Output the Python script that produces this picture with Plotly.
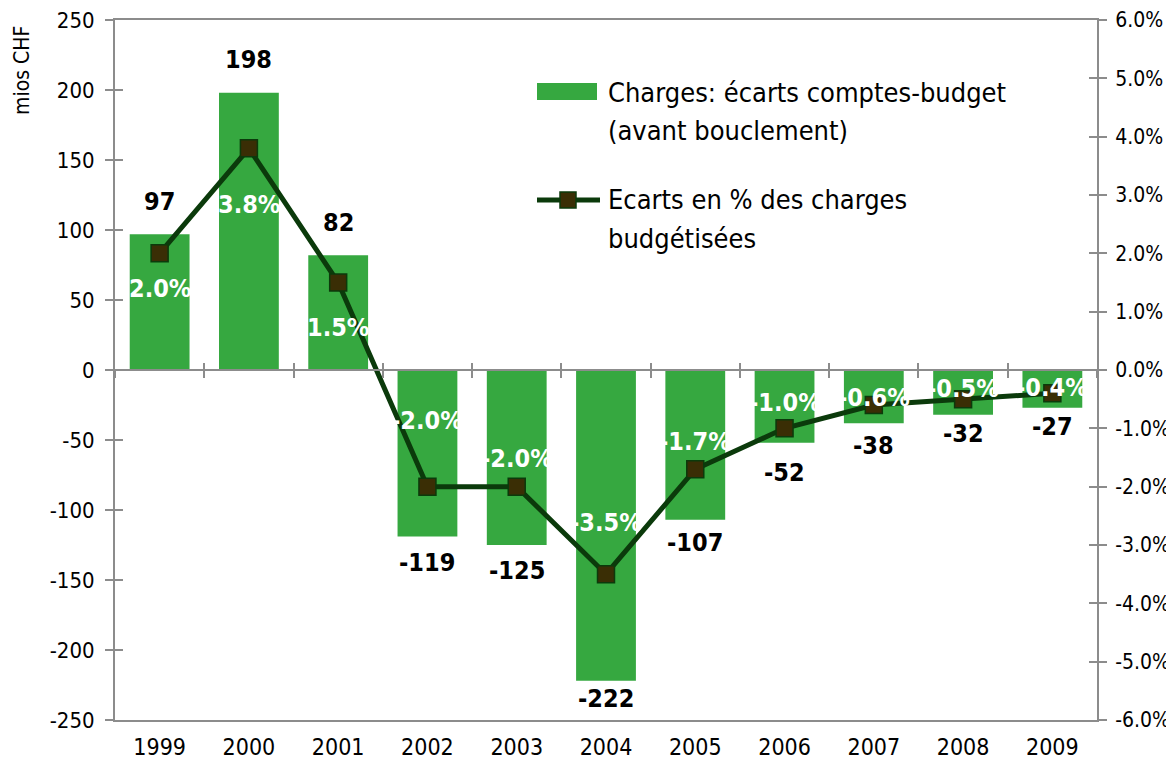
import plotly.graph_objects as go

years = ["1999", "2000", "2001", "2002", "2003", "2004", "2005", "2006", "2007", "2008", "2009"]
charges = [97, 198, 82, -119, -125, -222, -107, -52, -38, -32, -27]
pct = [2.0, 3.8, 1.5, -2.0, -2.0, -3.5, -1.7, -1.0, -0.6, -0.5, -0.4]

# label offsets (pixels) as in the original layout
bar_label_shift = [33, 33, 33, -26, -25, -18, -23, -30, -22, -19, -19]
pct_label_shift = [-35, -56, -45, 66, 28, 52, 28, 26, 8, 11, 6]

left_ticks = list(range(-250, 251, 50))
right_ticks = [v for v in range(-6, 7)]

legend_lines = [
    ("Charges: écarts comptes-budget", 92),
    ("(avant bouclement)", 130),
    ("Ecarts en % des charges", 200),
    ("budgétisées", 239),
]

FONT = "Liberation Sans Narrow, Arial Narrow, DejaVu Sans Condensed, sans-serif"
BAR_C = "#36A840"
LINE_C = "#0B3A0B"
MARK_C = "#3A2E05"
AX_C = "#8C8C8C"

# the page body has an 8px margin, so the figure is offset by (8, 8) in the window
OFF = 8
W, H = 1174 - OFF, 771 - OFF
L, R, T, B = 115 - OFF, 77, 20 - OFF, 51
pw, ph = W - L - R, H - T - B
PL, PT = L + OFF, T + OFF  # plot-area origin in window pixels


def px(xp):
    return (xp - PL) / pw


def py(yp):
    return (PT + ph - yp) / ph


fig = go.Figure()
# invisible helper traces that activate the overlay axes used for crossing ticks
fig.add_trace(go.Scatter(x=years, y=[0] * len(years), xaxis="x2", yaxis="y", mode="none",
                         showlegend=False, hoverinfo="skip"))
fig.add_trace(go.Scatter(x=years, y=[0] * len(years), xaxis="x3", yaxis="y3", mode="none",
                         showlegend=False, hoverinfo="skip"))
fig.add_trace(go.Scatter(x=years, y=[0] * len(years), xaxis="x", yaxis="y4", mode="none",
                         showlegend=False, hoverinfo="skip"))

fig.add_trace(go.Bar(x=years, y=charges, marker=dict(color=BAR_C, line=dict(width=0)),
                     name="Charges: écarts comptes-budget (avant bouclement)",
                     showlegend=False, yaxis="y", xaxis="x"))
fig.add_trace(go.Scatter(x=years, y=pct, mode="lines+markers", yaxis="y2", xaxis="x",
                         line=dict(color=LINE_C, width=5),
                         marker=dict(symbol="square", size=17, color=MARK_C,
                                     line=dict(color=LINE_C, width=1.5)),
                         name="Ecarts en % des charges budgétisées", showlegend=False))

annotations = []
for i, v in enumerate(charges):
    annotations.append(dict(x=i, y=v, xref="x", yref="y", text=f"<b>{v}</b>", showarrow=False,
                            yshift=bar_label_shift[i], font=dict(family=FONT, size=25, color="black")))
for i, p in enumerate(pct):
    annotations.append(dict(x=i, y=p, xref="x", yref="y2", text=f"<b>{p:.1f}%</b>", showarrow=False,
                            yshift=pct_label_shift[i], font=dict(family=FONT, size=25, color="white")))

# axis title
annotations.append(dict(x=px(22), y=py(71), xref="paper", yref="paper", text="mios CHF",
                        showarrow=False, textangle=-90, xanchor="center", yanchor="middle",
                        font=dict(family=FONT, size=21, color="black")))

# manual legend
LEG_FONT = dict(family=FONT, size=27, color="black")
for txt, ypos in legend_lines:
    annotations.append(dict(x=px(606), y=py(ypos), xref="paper", yref="paper", xanchor="left",
                            yanchor="middle", align="left", showarrow=False, text=txt, font=LEG_FONT))
shapes = [
    dict(type="rect", xref="paper", yref="paper", x0=px(537), x1=px(597), y0=py(100), y1=py(83),
         fillcolor=BAR_C, line=dict(width=0)),
    dict(type="line", xref="paper", yref="paper", x0=px(537), x1=px(600), y0=py(200), y1=py(200),
         line=dict(color=LINE_C, width=5)),
    dict(type="rect", xref="paper", yref="paper", x0=px(560), x1=px(576), y0=py(208), y1=py(192),
         fillcolor=MARK_C, line=dict(color=LINE_C, width=1.5)),
]

tickfont = dict(family=FONT, size=22, color="black")
rtickfont = dict(family=FONT, size=21, color="black")
xtickfont = dict(family=FONT, size=23, color="black")
xrange = [-0.5, len(years) - 0.5]
common_x = dict(type="category", categoryorder="array", categoryarray=years, range=xrange,
                showgrid=False, zeroline=False, automargin=False)
fig.update_layout(
    width=W, height=H, margin=dict(l=L, r=R, t=T, b=B, autoexpand=False),
    plot_bgcolor="white", paper_bgcolor="white", bargap=0.33,
    annotations=annotations, shapes=shapes,
    xaxis=dict(**common_x, showline=True, linecolor=AX_C, linewidth=2, mirror=True,
               ticks="", tickfont=xtickfont, anchor="y", ticklabelstandoff=5),
    xaxis2=dict(**common_x, overlaying="x", anchor="free", position=0.5, side="bottom",
                showline=True, linecolor=AX_C, linewidth=2, ticks="outside", tickson="boundaries",
                ticklen=7, tickcolor=AX_C, tickwidth=2, showticklabels=False),
    xaxis3=dict(**common_x, overlaying="x", anchor="free", position=0.5, side="bottom",
                showline=False, ticks="inside", tickson="boundaries",
                ticklen=7, tickcolor=AX_C, tickwidth=2, showticklabels=False),
    yaxis=dict(range=[-250, 250], tickvals=left_ticks, ticktext=[str(v) for v in left_ticks],
               showline=True, linecolor=AX_C, linewidth=2, automargin=False,
               ticks="outside", ticklen=8, tickcolor=AX_C, tickwidth=2, tickfont=tickfont,
               showgrid=False, zeroline=False, ticklabelstandoff=6, ticklabeloverflow="allow"),
    yaxis3=dict(range=[-250, 250], tickvals=left_ticks, overlaying="y", side="left", anchor="x",
                ticks="inside", ticklen=8, tickcolor=AX_C, tickwidth=2, showticklabels=False,
                showgrid=False, zeroline=False, showline=False, automargin=False),
    yaxis2=dict(range=[-6, 6], tickvals=right_ticks, ticktext=[f"{v:.1f}%" for v in right_ticks],
                overlaying="y", side="right", anchor="x", showline=True, linecolor=AX_C, linewidth=2,
                ticks="outside", ticklen=8, tickcolor=AX_C, tickwidth=2, tickfont=rtickfont,
                showgrid=False, zeroline=False, ticklabelstandoff=4, automargin=False,
                ticklabeloverflow="allow"),
    yaxis4=dict(range=[-6, 6], tickvals=right_ticks, overlaying="y", side="right", anchor="x",
                ticks="inside", ticklen=8, tickcolor=AX_C, tickwidth=2, showticklabels=False,
                showgrid=False, zeroline=False, showline=False, automargin=False),
)

fig.write_html("out.html")
